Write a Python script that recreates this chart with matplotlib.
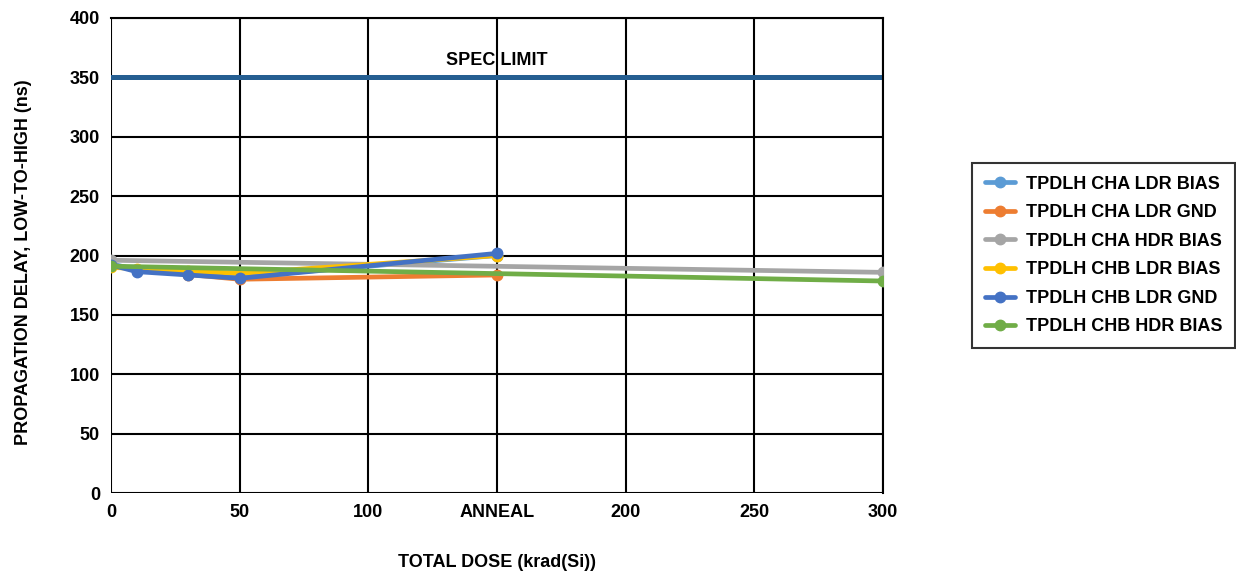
import numpy as np
import matplotlib.pyplot as plt

plt.rcParams['font.family'] = ['Liberation Sans', 'DejaVu Sans']
plt.rcParams['font.weight'] = 'bold'

# Dose points (ANNEAL plotted at 150)
ldr_dose = [0, 10, 30, 50, 150]
hdr_dose = [0, 300]

cha_ldr_bias = [193, 188, 185, 182, 200]
cha_ldr_gnd = [192, 188, 184, 180, 183.6]
cha_hdr_bias = [196, 185.8]
chb_ldr_bias = [190, 189, 187, 185, 200]
chb_ldr_gnd = [192, 186.4, 183.6, 180.8, 201.8]
chb_hdr_bias = [191, 178.5]

spec_limit = 350

xticks = [0, 50, 100, 150, 200, 250, 300]
xtick_labels = ['0', '50', '100', 'ANNEAL', '200', '250', '300']

fs = 13

fig = plt.figure(figsize=(12.36, 5.74), dpi=100)
ax = fig.add_axes([111/1236, 1 - 493/574, (883-111)/1236, (493-18)/574])

series = [
    (ldr_dose, cha_ldr_bias, '#5B9BD5', 'TPDLH CHA LDR BIAS'),
    (ldr_dose, cha_ldr_gnd, '#ED7D31', 'TPDLH CHA LDR GND'),
    (hdr_dose, cha_hdr_bias, '#A5A5A5', 'TPDLH CHA HDR BIAS'),
    (ldr_dose, chb_ldr_bias, '#FFC000', 'TPDLH CHB LDR BIAS'),
    (ldr_dose, chb_ldr_gnd, '#4472C4', 'TPDLH CHB LDR GND'),
    (hdr_dose, chb_hdr_bias, '#70AD47', 'TPDLH CHB HDR BIAS'),
]
for xs, ys, c, lab in series:
    ax.plot(xs, ys, color=c, linewidth=3.4, marker='o', markersize=7.5, label=lab,
            solid_capstyle='round', zorder=3)

# Spec limit line
ax.axhline(spec_limit, color='#255E91', linewidth=3.6, zorder=2)
ax.text(150, spec_limit + 7, 'SPEC LIMIT', ha='center', va='bottom', fontsize=fs, fontweight='bold')

ax.set_xlim(0, 300)
ax.set_ylim(0, 400)
ax.set_xticks(xticks)
ax.set_xticklabels(xtick_labels)
ax.set_yticks(np.arange(0, 401, 50))
ax.tick_params(length=0, labelsize=fs, pad=8)
for lab in ax.get_xticklabels() + ax.get_yticklabels():
    lab.set_fontweight('bold')
ax.grid(True, color='black', linewidth=1.5, zorder=1)
for s in ax.spines.values():
    s.set_visible(False)
ax.spines['top'].set_visible(True)
ax.spines['right'].set_visible(True)
ax.spines['top'].set_linewidth(1.5)
ax.spines['right'].set_linewidth(1.5)

ax.set_xlabel('TOTAL DOSE (krad(Si))', fontsize=fs, fontweight='bold', labelpad=24)
ax.set_ylabel('PROPAGATION DELAY, LOW-TO-HIGH (ns)', fontsize=fs, fontweight='bold', labelpad=34)
ax.yaxis.set_label_coords(-0.1025, 0.485)

leg = fig.legend(loc='upper left', bbox_to_anchor=(972/1236, 1 - 163/574), frameon=True,
                 fancybox=False, edgecolor='black', fontsize=fs, handlelength=1.7,
                 handletextpad=0.6, borderpad=0.7, labelspacing=0.64, borderaxespad=0)
leg.get_frame().set_linewidth(1.5)
for t in leg.get_texts():
    t.set_fontweight('bold')

fig.savefig('out.png', dpi=100)
